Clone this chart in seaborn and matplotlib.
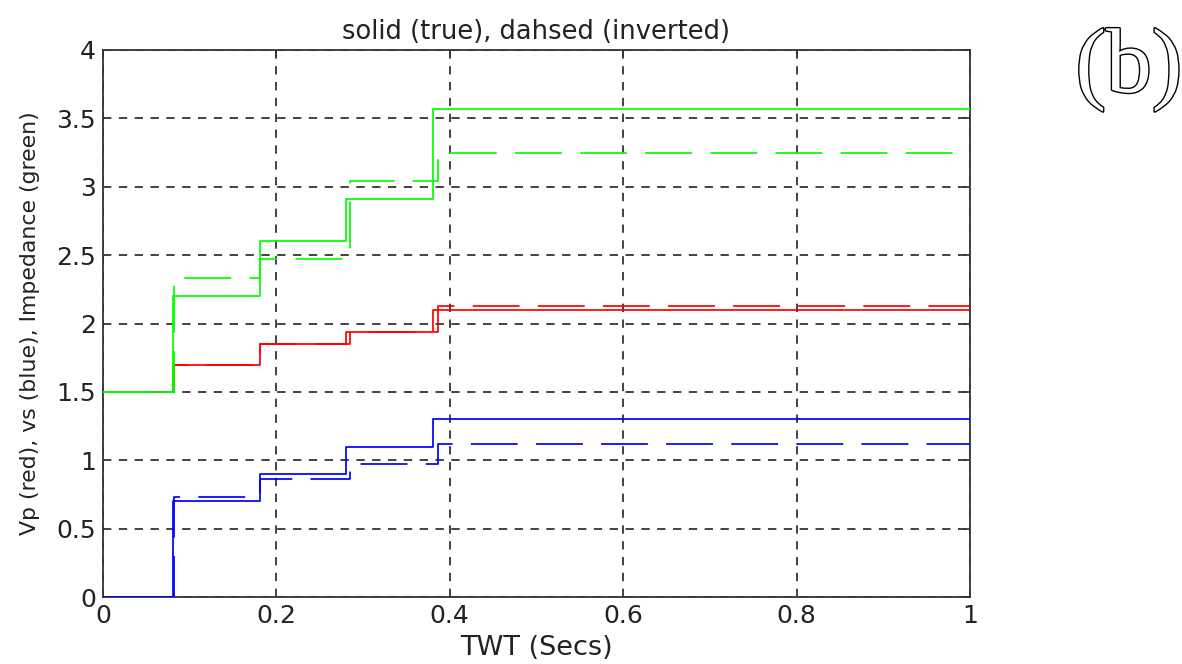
import numpy as np
import pandas as pd
import seaborn as sns
import matplotlib
matplotlib.use("Agg")
import matplotlib.pyplot as plt
import matplotlib.patheffects as pe

# Layer boundary times (two-way time, seconds)
twt_true = [0.0, 0.081, 0.181, 0.280, 0.381, 1.0]
twt_inv = [0.0, 0.082, 0.181, 0.285, 0.387, 1.0]

# True model (solid)
vp_true = [1.50, 1.70, 1.85, 1.94, 2.10, 2.10]
vs_true = [0.00, 0.70, 0.90, 1.10, 1.30, 1.30]
imp_true = [1.50, 2.20, 2.60, 2.91, 3.57, 3.57]

# Inverted model (dashed)
vp_inv = [1.50, 1.70, 1.85, 1.94, 2.13, 2.13]
vs_inv = [0.00, 0.733, 0.863, 0.97, 1.12, 1.12]
imp_inv = [1.50, 2.33, 2.47, 3.04, 3.25, 3.25]

x_ticks = [0, 0.2, 0.4, 0.6, 0.8, 1]
x_ticklabels = ["0", "0.2", "0.4", "0.6", "0.8", "1"]
y_ticks = [0, 0.5, 1, 1.5, 2, 2.5, 3, 3.5, 4]
y_ticklabels = ["0", "0.5", "1", "1.5", "2", "2.5", "3", "3.5", "4"]

sns.set_style("white")
plt.rcParams["font.family"] = ["DejaVu Sans"]

fig = plt.figure(figsize=(11.82, 6.64), dpi=100)
ax = fig.add_axes([0.0871, 0.1009, 0.7335, 0.8238])

colors = {"vp": "#ff0000", "vs": "#0000ff", "imp": "#00ff00"}
lw = 1.25

series = [
    ("vp", twt_true, vp_true, twt_inv, vp_inv),
    ("vs", twt_true, vs_true, twt_inv, vs_inv),
    ("imp", twt_true, imp_true, twt_inv, imp_inv),
]

for key, tt, yt, ti, yi in series:
    df_t = pd.DataFrame({"twt": tt, "val": yt})
    df_i = pd.DataFrame({"twt": ti, "val": yi})
    sns.lineplot(data=df_t, x="twt", y="val", ax=ax, color=colors[key],
                 lw=lw, drawstyle="steps-post", estimator=None, sort=False,
                 zorder=3)
    line = sns.lineplot(data=df_i, x="twt", y="val", ax=ax, color=colors[key],
                        lw=lw, drawstyle="steps-post", estimator=None,
                        sort=False, zorder=3).lines[-1]
    line.set_dashes((27, 10.5))

ax.set_xlim(0, 1)
ax.set_ylim(0, 4)
ax.set_xticks(x_ticks)
ax.set_xticklabels(x_ticklabels)
ax.set_yticks(y_ticks)
ax.set_yticklabels(y_ticklabels)

ax.grid(True, color="#222222", linestyle=(0, (5, 4.5)), linewidth=1.2, zorder=1)
ax.set_axisbelow(True)

for sp in ax.spines.values():
    sp.set_visible(True)
    sp.set_color("#333333")
    sp.set_linewidth(1.3)

ax.tick_params(direction="in", length=5, width=1.2, color="#333333",
               labelsize=18, labelcolor="#222222", top=True, right=True,
               pad=5)

ax.set_xlabel("TWT (Secs)", fontsize=19.5, color="#222222", labelpad=5)
ax.set_ylabel("Vp (red), vs (blue), Impedance (green)", fontsize=15.8,
              color="#222222", labelpad=12)
ax.set_title("solid (true), dahsed (inverted)", fontsize=18.5, color="#222222",
             pad=8)

fig.text(0.955, 0.8946, "(b)", fontsize=66, family="Liberation Serif",
         color="white", ha="center", va="center",
         path_effects=[pe.withStroke(linewidth=2.0, foreground="black")])

fig.savefig("out.png", dpi=100)
